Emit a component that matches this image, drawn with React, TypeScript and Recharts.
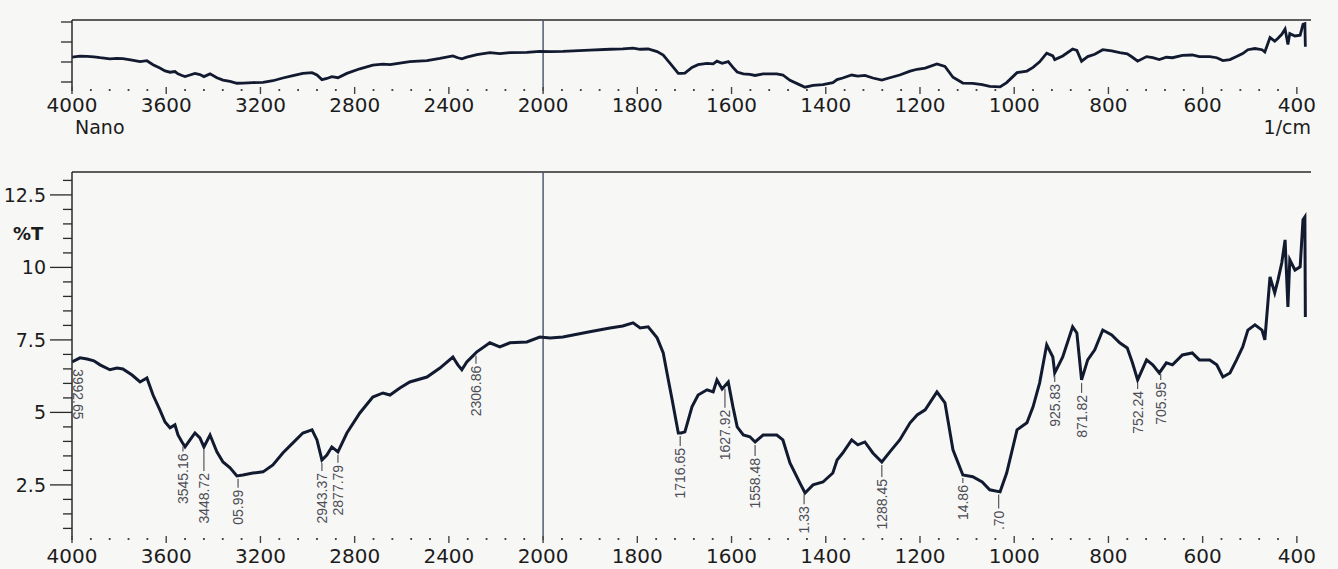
import { LineChart, Line, XAxis, YAxis, ReferenceLine, ReferenceDot } from "recharts";

// spectrum: wavenumber (1/cm) and %T
const WAVENUMBER = [
  4000, 3966, 3936, 3907, 3881, 3839, 3809, 3784, 3745, 3711, 3682, 3656, 3627, 3605, 3584, 3563,
  3550, 3533, 3520, 3499, 3478, 3457, 3440, 3414, 3385, 3359, 3329, 3300, 3274, 3232, 3189, 3147,
  3105, 3062, 3020, 2981, 2960, 2939, 2918, 2897, 2871, 2833, 2778, 2723, 2680, 2650, 2608, 2566,
  2493, 2438, 2383, 2362, 2345, 2324, 2298, 2281, 2226, 2184, 2141, 2069, 2014, 1985, 1958, 1901,
  1858, 1831, 1809, 1794, 1777, 1758, 1745, 1737, 1726, 1713, 1707, 1699, 1684, 1671, 1652, 1639,
  1631, 1620, 1607, 1597, 1588, 1575, 1561, 1550, 1533, 1504, 1491, 1476, 1455, 1444, 1427, 1406,
  1385, 1376, 1364, 1345, 1332, 1317, 1300, 1281, 1264, 1243, 1221, 1206, 1189, 1164, 1147, 1130,
  1109, 1088, 1068, 1052, 1030, 1016, 994, 973, 960, 946, 931, 918, 914, 897, 876, 867,
  857, 844, 829, 812, 793, 776, 760, 749, 738, 719, 706, 692, 677, 664, 643, 622,
  607, 585, 570, 557, 542, 528, 515, 504, 489, 474, 468, 464, 457, 447, 440, 432,
  425, 419, 415, 404, 393, 387, 383, 382,
];
const TRANSMITTANCE = [
  6.74, 6.88, 6.84, 6.78, 6.64, 6.47, 6.53, 6.5, 6.29, 6.05, 6.19, 5.6, 5.09, 4.67, 4.47, 4.57,
  4.22, 3.98, 3.81, 4.05, 4.29, 4.12, 3.81, 4.22, 3.64, 3.29, 3.09, 2.81, 2.84, 2.91, 2.95, 3.19,
  3.6, 3.95, 4.29, 4.4, 4.05, 3.36, 3.53, 3.81, 3.64, 4.29, 4.98, 5.53, 5.67, 5.6, 5.84, 6.05,
  6.22, 6.53, 6.91, 6.64, 6.47, 6.74, 6.95, 7.09, 7.4, 7.26, 7.4, 7.43, 7.6, 7.57, 7.6, 7.78,
  7.91, 7.98, 8.09, 7.91, 7.95, 7.57, 7.05, 6.36, 5.43, 4.29, 4.29, 4.33, 5.19, 5.6, 5.78, 5.71,
  6.12, 5.81, 6.05, 5.19, 4.5, 4.22, 4.16, 3.98, 4.22, 4.22, 4.05, 3.26, 2.57, 2.22, 2.5, 2.6,
  2.91, 3.36, 3.6, 4.05, 3.88, 3.98, 3.6, 3.29, 3.64, 4.05, 4.64, 4.91, 5.09, 5.71, 5.33, 3.71,
  2.84, 2.78, 2.6, 2.33, 2.26, 2.91, 4.4, 4.64, 5.19, 6.02, 7.33, 6.91, 6.36, 6.91, 7.95, 7.74,
  6.12, 6.81, 7.16, 7.84, 7.67, 7.4, 7.22, 6.71, 6.12, 6.81, 6.64, 6.36, 6.71, 6.64, 6.98, 7.05,
  6.81, 6.81, 6.64, 6.22, 6.36, 6.81, 7.26, 7.84, 8.02, 7.84, 7.5, 8.29, 9.67, 9.12, 9.57, 10.16,
  10.95, 8.64, 10.26, 9.91, 10.02, 11.64, 11.74, 8.29,
];

const X_LABELS = [4000, 3600, 3200, 2800, 2400, 2000, 1800, 1600, 1400, 1200, 1000, 800, 600, 400];
const Y_LABELS = [2.5, 5, 7.5, 10, 12.5];

// peak annotations: printed text and where the leader sits on the curve
const PEAK_TEXT = [
  "3992.65", "3545.16", "3448.72", "05.99", "2943.37", "2877.79", "2306.86", "1716.65", "1627.92",
  "1558.48", "1.33", "1288.45", "14.86", ".70", "925.83", "871.82", "752.24", "705.95",
];
const PEAK_AT = [3975, 3529, 3440, 3295, 2939, 2871, 2285, 1709, 1614, 1550, 1446, 1281, 1109, 1033, 914, 857, 738, 689];

// the axis is linear above 2000 and stretched 2x below it
const toP = (w: number) => (w >= 2000 ? 4000 - w : 2000 + (2000 - w) * 2);
const fromP = (p: number) => (p <= 2000 ? 4000 - p : 2000 - (p - 2000) / 2);

const data = WAVENUMBER.map((w, i) => ({ p: toP(w), t: TRANSMITTANCE[i] }));

const valueAt = (w: number) => {
  for (let i = 0; i < WAVENUMBER.length - 1; i++) {
    const a = WAVENUMBER[i];
    const b = WAVENUMBER[i + 1];
    if (w <= a && w >= b) {
      const f = (a - w) / (a - b);
      return TRANSMITTANCE[i] + f * (TRANSMITTANCE[i + 1] - TRANSMITTANCE[i]);
    }
  }
  return TRANSMITTANCE[0];
};

const peaks = PEAK_TEXT.map((text, i) => ({ text, p: toP(PEAK_AT[i]), t: valueAt(PEAK_AT[i]) }));

const X_MAX = 5260;
const X_TICKS = Array.from({ length: 66 }, (_, i) => i * 80);
const MAIN_Y: [number, number] = [0.6, 13.29];
const MAIN_TICKS = Array.from({ length: 25 }, (_, i) => 1 + i * 0.5);
const TOP_Y: [number, number] = [1.65, 12.3];
const TOP_TICKS = [3, 6, 9, 12];

const LEAD: Record<string, number> = {
  "3545.16": 8, "3448.72": 24, "05.99": 12, "1716.65": 13, "1627.92": 22, "1558.48": 14,
  "1.33": 13, "1288.45": 15, "14.86": 8, ".70": 17, "925.83": 9, "871.82": 13, "752.24": 9, "705.95": 9,
};

const AXIS = "#2a2a2a";
const INK = "#121a30";
const FONT = "DejaVu Sans, sans-serif";

function XTick({ x, y, payload, labelDy }: any) {
  const w = fromP(payload.value);
  const major = X_LABELS.includes(w);
  return (
    <g>
      <line x1={x} x2={x} y1={major ? y - 4 : y - 2} y2={major ? y + 3 : y} stroke="#444" strokeWidth={major ? 1.4 : 1.8} />
      {major && (
        <text x={x} y={y + labelDy} textAnchor="middle" fontSize={20} fontFamily={FONT} fill="#1c1c1c">
          {w}
        </text>
      )}
    </g>
  );
}

function YTick({ x, y, payload }: any) {
  const v = payload.value;
  const major = Y_LABELS.includes(v);
  return (
    <g>
      <line x1={x - (major ? 22 : 9)} x2={x} y1={y} y2={y} stroke={AXIS} strokeWidth={1.3} />
      {major && (
        <text x={x - 26} y={y} textAnchor="end" dominantBaseline="central" fontSize={19} fontFamily={FONT} fill="#1c1c1c">
          {v}
        </text>
      )}
    </g>
  );
}

function TopYTick({ x, y }: any) {
  return <line x1={x - 11} x2={x} y1={y} y2={y} stroke={AXIS} strokeWidth={1.3} />;
}

function PeakMark({ cx, cy, text }: { cx: number; cy: number; text: string }) {
  const style = { fontSize: 14, fontFamily: "Liberation Sans, Arial, sans-serif", fill: "#4d4d55" };
  if (text === "3992.65") {
    const ty = cy + 10;
    return (
      <text x={cx} y={ty} transform={`rotate(90 ${cx} ${ty})`} dominantBaseline="central" {...style}>
        {text}
      </text>
    );
  }
  const end = cy + (LEAD[text] ?? 11);
  const ty = end + 2;
  return (
    <g>
      <line x1={cx} x2={cx} y1={cy + 3} y2={end} stroke="#55555c" strokeWidth={1.2} />
      <text x={cx} y={ty} transform={`rotate(-90 ${cx} ${ty})`} textAnchor="end" dominantBaseline="central" {...style}>
        {text}
      </text>
    </g>
  );
}

export default function App() {
  return (
    <div style={{ position: "absolute", left: 0, top: 0, width: 1338, height: 569, background: "#f7f7f6", overflow: "hidden" }}>
      <div style={{ position: "absolute", left: 0, top: 0 }}>
        <LineChart width={1338} height={140} data={data} margin={{ top: 20, right: 27, bottom: 9, left: 0 }}>
          <XAxis
            dataKey="p"
            type="number"
            domain={[0, X_MAX]}
            ticks={X_TICKS}
            interval={0}
            axisLine={false}
            tickLine={false}
            tickSize={0}
            tickMargin={0}
            height={40}
            allowDataOverflow
            tick={(props: any) => <XTick {...props} labelDy={21} />}
          />
          <YAxis
            type="number"
            domain={TOP_Y}
            ticks={TOP_TICKS}
            interval={0}
            width={72}
            allowDataOverflow
            axisLine={{ stroke: AXIS, strokeWidth: 1.5 }}
            tickLine={false}
            tickSize={0}
            tickMargin={0}
            tick={TopYTick}
          />
          <ReferenceLine y={TOP_Y[1]} stroke={AXIS} strokeWidth={1.6} />
          <ReferenceLine x={2000} stroke="#46506a" strokeWidth={1.4} />
          <Line type="linear" dataKey="t" stroke={INK} strokeWidth={2.8} dot={false} isAnimationActive={false} />
        </LineChart>
      </div>

      <div style={{ position: "absolute", left: 0, top: 150 }}>
        <LineChart width={1338} height={419} data={data} margin={{ top: 22, right: 27, bottom: 0, left: 0 }}>
          <XAxis
            dataKey="p"
            type="number"
            domain={[0, X_MAX]}
            ticks={X_TICKS}
            interval={0}
            axisLine={false}
            tickLine={false}
            tickSize={0}
            tickMargin={0}
            height={29}
            allowDataOverflow
            tick={(props: any) => <XTick {...props} labelDy={23} />}
          />
          <YAxis
            type="number"
            domain={MAIN_Y}
            ticks={MAIN_TICKS}
            interval={0}
            width={72}
            allowDataOverflow
            axisLine={{ stroke: AXIS, strokeWidth: 1.5 }}
            tickLine={false}
            tickSize={0}
            tickMargin={0}
            tick={YTick}
          />
          <ReferenceLine y={MAIN_Y[1]} stroke={AXIS} strokeWidth={1.6} />
          <ReferenceLine x={2000} stroke="#46506a" strokeWidth={1.4} />
          <Line type="linear" dataKey="t" stroke={INK} strokeWidth={3} dot={false} isAnimationActive={false} />
          {peaks.map((pk) => (
            <ReferenceDot
              key={pk.text}
              x={pk.p}
              y={pk.t}
              r={0}
              ifOverflow="visible"
              shape={(props: any) => <PeakMark cx={props.cx} cy={props.cy} text={pk.text} />}
            />
          ))}
        </LineChart>
      </div>

      <svg width={1338} height={569} style={{ position: "absolute", left: 0, top: 0, pointerEvents: "none" }}>
        <text x={75} y={134} fontSize={19} fontFamily={FONT} fill="#1c1c1c">
          Nano
        </text>
        <text x={1311} y={134} textAnchor="end" fontSize={19} fontFamily={FONT} fill="#1c1c1c">
          1/cm
        </text>
        <text x={13} y={240} fontSize={18} fontWeight="bold" fontFamily={FONT} fill="#1c1c1c">
          %T
        </text>
      </svg>
    </div>
  );
}
